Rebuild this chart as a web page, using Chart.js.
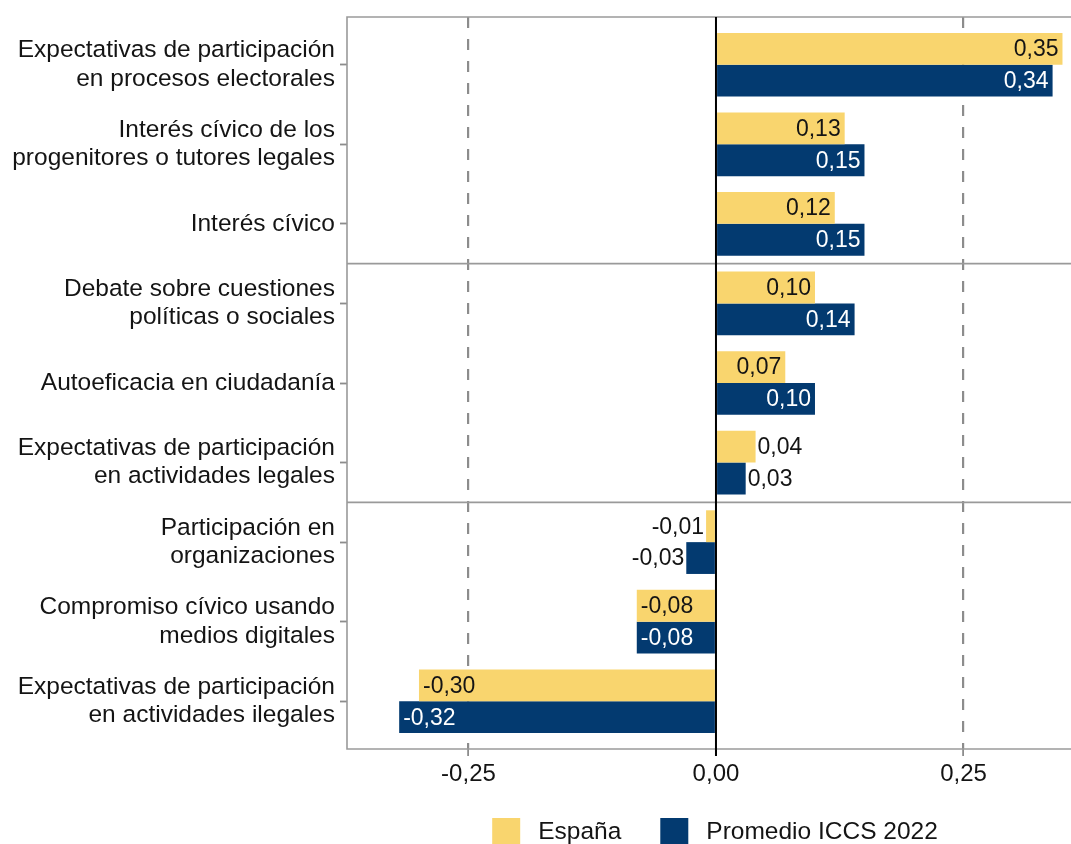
<!DOCTYPE html>
<html>
  <head>
    <meta charset="utf-8" />
    <script src="https://cdn.jsdelivr.net/npm/chart.js@4.4.0/dist/chart.umd.min.js"></script>
    <style>
      body { margin: 0; background: #fff; }
    </style>
  </head>
  <body>
    <canvas id="chart-indicadores" width="1071" height="844"></canvas>
    <script>
      // INPUT DATA

      const categories = [
        ["Expectativas de participación", "en procesos electorales"],
        ["Interés cívico de los", "progenitores o tutores legales"],
        "Interés cívico",
        ["Debate sobre cuestiones", "políticas o sociales"],
        "Autoeficacia en ciudadanía",
        ["Expectativas de participación", "en actividades legales"],
        ["Participación en", "organizaciones"],
        ["Compromiso cívico usando", "medios digitales"],
        ["Expectativas de participación", "en actividades ilegales"],
      ];
      const espana = [0.35, 0.13, 0.12, 0.10, 0.07, 0.04, -0.01, -0.08, -0.30];
      const promedio = [0.34, 0.15, 0.15, 0.14, 0.10, 0.03, -0.03, -0.08, -0.32];
      const xTicks = [-0.25, 0, 0.25];
      const groupBreaks = [2.5, 5.5];

      const YELLOW = "#f9d56e";
      const BLUE = "#033a70";
      const FONT = "'Liberation Sans', Arial, sans-serif";
      const TEXT = "#141414";

      const fmt = (v) => v.toFixed(2).replace(".", ",");

      // frame, group separators and the zero line
      const framePlugin = {
        id: "frame",
        beforeDatasetsDraw(chart) {
          const { ctx, chartArea: a, scales } = chart;
          ctx.save();
          ctx.strokeStyle = "#9a9a9a";
          ctx.lineWidth = 1.6;
          ctx.beginPath();
          ctx.moveTo(a.right, a.top);
          ctx.lineTo(a.left, a.top);
          ctx.lineTo(a.left, a.bottom);
          ctx.lineTo(a.right, a.bottom);
          groupBreaks.forEach((b) => {
            const y = scales.y.getPixelForValue(b);
            ctx.moveTo(a.left, y);
            ctx.lineTo(a.right, y);
          });
          ctx.stroke();
          ctx.restore();
        },
        afterDatasetsDraw(chart) {
          const { ctx, chartArea: a, scales } = chart;
          const x0 = scales.x.getPixelForValue(0);
          ctx.save();
          ctx.strokeStyle = "#000";
          ctx.lineWidth = 2;
          ctx.beginPath();
          ctx.moveTo(x0, a.top);
          ctx.lineTo(x0, a.bottom + 7);
          ctx.stroke();
          ctx.restore();
        },
      };

      // value labels: inside the bar end for long bars, outside for short ones
      const valueLabels = {
        id: "valueLabels",
        afterDatasetsDraw(chart) {
          const ctx = chart.ctx;
          ctx.save();
          ctx.font = "23px " + FONT;
          ctx.textBaseline = "middle";
          chart.data.datasets.forEach((ds, di) => {
            chart.getDatasetMeta(di).data.forEach((bar, i) => {
              const v = ds.data[i].x;
              const inside = Math.abs(v) >= 0.05;
              let x = bar.x;
              if (v >= 0) {
                ctx.textAlign = inside ? "right" : "left";
                x += inside ? -4 : 2;
              } else {
                ctx.textAlign = inside ? "left" : "right";
                x += inside ? 4 : -2;
              }
              ctx.fillStyle = inside && di === 1 ? "#fff" : TEXT;
              ctx.fillText(fmt(v), x, bar.y + 1);
            });
          });
          ctx.restore();
        },
      };

      // legend row under the x axis
      const legendRow = {
        id: "legendRow",
        afterDraw(chart) {
          const { ctx, chartArea: a } = chart;
          const box = 28, gap = 18, between = 39;
          ctx.save();
          ctx.font = "24.5px " + FONT;
          ctx.textBaseline = "middle";
          ctx.textAlign = "left";
          const items = chart.data.datasets.map((ds) => ({
            text: ds.label,
            color: ds.backgroundColor,
            w: ctx.measureText(ds.label).width,
          }));
          const total = items.reduce((s, it) => s + box + gap + it.w, 0) + between * (items.length - 1);
          let x = (a.left + a.right) / 2 + 6 - total / 2;
          const top = 818;
          items.forEach((it) => {
            ctx.fillStyle = it.color;
            ctx.fillRect(x, top, box, box);
            ctx.fillStyle = TEXT;
            ctx.fillText(it.text, x + box + gap, top + 14);
            x += box + gap + it.w + between;
          });
          ctx.restore();
        },
      };

      const ctx = document.getElementById("chart-indicadores").getContext("2d");
      new Chart(ctx, {
        type: "bar",
        data: {
          datasets: [
            {
              label: "España",
              data: espana.map((v, i) => ({ x: v, y: i })),
              backgroundColor: YELLOW,
            },
            {
              label: "Promedio ICCS 2022",
              data: promedio.map((v, i) => ({ x: v, y: i })),
              backgroundColor: BLUE,
            },
          ],
        },
        options: {
          indexAxis: "y",
          responsive: false,
          animation: false,
          categoryPercentage: 0.8,
          barPercentage: 1.0,
          layout: { padding: { top: 17, right: 0, bottom: 49, left: 0 } },
          scales: {
            x: {
              type: "linear",
              min: -0.3727,
              max: 0.3586,
              afterBuildTicks: (scale) => {
                scale.ticks = xTicks.map((v) => ({ value: v }));
              },
              afterFit: (scale) => {
                scale.height = 46;
              },
              ticks: {
                callback: (v) => fmt(v),
                color: TEXT,
                font: { family: FONT, size: 24 },
                padding: 4,
                maxRotation: 0,
              },
              grid: {
                color: (c) => (c.tick && c.tick.value === 0 ? "rgba(0,0,0,0)" : "#8c8c8c"),
                lineWidth: 2.2,
                tickLength: 7,
                tickColor: (c) => (c.tick && c.tick.value === 0 ? "#000" : "#8c8c8c"),
                tickWidth: 1.8,
              },
              border: { display: false, dash: [11, 11] },
            },
            y: {
              type: "linear",
              reverse: true,
              offset: false,
              min: -0.6,
              max: 8.6,
              afterBuildTicks: (scale) => {
                scale.ticks = categories.map((c, i) => ({ value: i }));
              },
              afterFit: (scale) => {
                scale.width = 347;
                // labels sit well inside the range, no extra edge padding needed
                scale.paddingTop = 0;
                scale.paddingBottom = 0;
              },
              ticks: {
                callback: (v) => categories[v],
                color: TEXT,
                font: { family: FONT, size: 24.5, lineHeight: 1.15 },
                padding: 5,
              },
              grid: {
                offset: false,
                drawOnChartArea: false,
                tickLength: 7,
                tickColor: "#8c8c8c",
                tickWidth: 1.8,
              },
              border: { display: false },
            },
          },
          plugins: {
            legend: { display: false },
            tooltip: { enabled: false },
          },
        },
        plugins: [framePlugin, valueLabels, legendRow],
      });
    </script>
  </body>
</html>
